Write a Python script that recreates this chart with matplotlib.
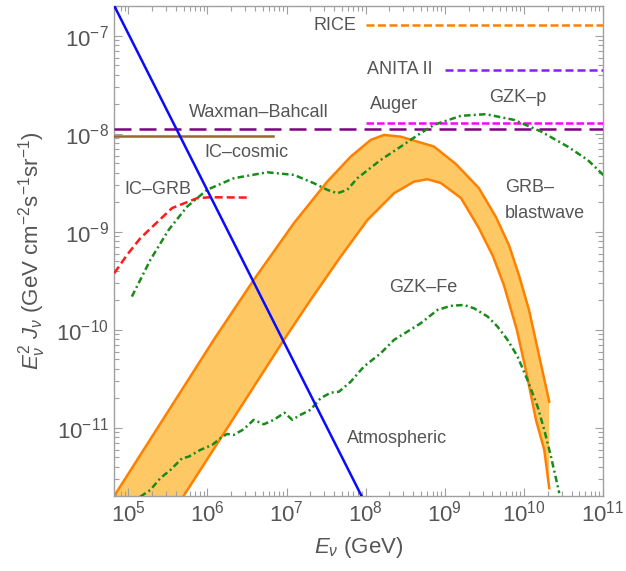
import numpy as np
import matplotlib
matplotlib.use("Agg")
import matplotlib.pyplot as plt
from matplotlib.ticker import FixedLocator, NullFormatter, LogFormatterSciNotation

plt.rcParams['font.family'] = ['Liberation Sans', 'DejaVu Sans']
plt.rcParams['mathtext.fontset'] = 'custom'
plt.rcParams['mathtext.rm'] = 'Liberation Sans'
plt.rcParams['mathtext.it'] = 'Liberation Sans:italic'
plt.rcParams['mathtext.bf'] = 'Liberation Sans:bold'

# ---------------- data (E in GeV, E^2 J in GeV cm^-2 s^-1 sr^-1) ----------------
atmos_E = [6.0e4, 1.0e8]
atmos_F = [2.39e-7, 1.67e-12]

rice_E = [1.0e8, 1.0e11]
rice_F = [1.29e-7, 1.29e-7]

anita_E = [1.0e9, 1.0e11]
anita_F = [4.5e-8, 4.5e-8]

auger_E = [1.0e8, 1.0e11]
auger_F = [1.29e-8, 1.29e-8]

wb_E = [6.6e4, 1.0e11]
wb_F = [1.12e-8, 1.12e-8]

iccosmic_E = [6.6e4, 6.8e6]
iccosmic_F = [9.55e-9, 9.55e-9]

icgrb_E = [6.65e4, 9.63e4, 1.42e5, 3.57e5, 7.41e5, 1.09e6, 3.50e6]
icgrb_F = [3.79e-10, 5.82e-10, 8.63e-10, 1.75e-9, 2.21e-9, 2.26e-9, 2.24e-9]

gzkp_E = [1.11e5, 1.90e5, 3.24e5, 5.53e5, 9.91e5, 2.15e6, 5.70e6, 1.24e7,
          2.22e7, 3.27e7, 4.39e7, 5.86e7, 7.85e7, 1.55e8, 2.77e8, 4.97e8,
          7.33e8, 1.60e9, 3.30e9, 7.53e9, 1.64e10, 3.57e10, 6.40e10, 1.04e11]
gzkp_F = [2.19e-10, 5.18e-10, 1.05e-9, 1.81e-9, 2.69e-9, 3.53e-9, 4.06e-9, 3.82e-9,
          3.14e-9, 2.69e-9, 2.48e-9, 2.69e-9, 3.53e-9, 5.43e-9, 7.41e-9, 1.02e-8,
          1.24e-8, 1.53e-8, 1.59e-8, 1.39e-8, 1.06e-8, 7.43e-9, 5.43e-9, 3.72e-9]

gzkfe_E = [1.42e5, 1.90e5, 2.54e5, 3.40e5, 4.79e5, 5.79e5, 8.15e5, 1.15e6,
           1.46e6, 1.77e6, 2.15e6, 2.88e6, 3.85e6, 5.16e6, 6.90e6, 9.44e6,
           1.18e7, 1.50e7, 2.01e7, 2.69e7, 3.61e7, 4.59e7, 6.46e7, 9.50e7,
           1.55e8, 2.28e8, 3.37e8, 4.97e8, 8.09e8, 1.19e9, 1.75e9, 2.35e9,
           3.48e9, 4.65e9, 6.22e9, 8.32e9, 1.11e10, 1.49e10, 1.81e10, 2.20e10, 2.80e10]
gzkfe_F = [1.99e-12, 2.33e-12, 3.07e-12, 3.72e-12, 4.91e-12, 5.09e-12, 5.97e-12, 6.71e-12,
           7.85e-12, 8.69e-12, 8.49e-12, 9.70e-12, 1.21e-11, 1.09e-11, 1.21e-11, 1.43e-11,
           1.21e-11, 1.36e-11, 1.53e-11, 2.01e-11, 2.29e-11, 2.34e-11, 2.96e-11, 4.23e-11,
           5.78e-11, 7.91e-11, 9.62e-11, 1.17e-10, 1.60e-10, 1.76e-10, 1.80e-10, 1.66e-10,
           1.37e-10, 1.08e-10, 7.91e-11, 5.35e-11, 3.09e-11, 1.65e-11, 9.55e-12, 5.09e-12, 2.16e-12]

grb_up_E = [6.0e4, 1.20e6, 3.85e6, 1.24e7, 3.27e7, 6.46e7, 1.16e8, 1.71e8, 2.77e8,
            4.51e8, 7.26e8, 1.38e9, 2.69e9, 4.43e9, 6.46e9, 8.64e9, 1.16e10, 1.50e10, 2.09e10]
grb_up_F = [1.78e-12, 7.91e-11, 3.24e-10, 1.23e-9, 3.26e-9, 5.86e-9, 8.69e-9, 9.77e-9, 9.38e-9,
            8.34e-9, 7.45e-9, 4.94e-9, 2.81e-9, 1.42e-9, 7.36e-10, 3.64e-10, 1.60e-10, 6.25e-11, 1.85e-11]

grb_lo_E = [4.5e5, 9.25e6, 2.01e7, 4.83e7, 1.05e8, 2.28e8, 4.08e8, 6.04e8, 8.89e8,
            1.60e9, 2.69e9, 4.05e9, 5.58e9, 8.15e9, 1.09e10, 1.42e10, 1.81e10, 2.09e10]
grb_lo_F = [1.77e-12, 7.91e-11, 2.02e-10, 5.60e-10, 1.32e-9, 2.48e-9, 3.26e-9, 3.45e-9, 3.16e-9,
            2.22e-9, 1.10e-9, 5.69e-10, 2.88e-10, 1.00e-10, 3.48e-11, 1.21e-11, 5.97e-12, 2.43e-12]

x_major = [1e5, 1e6, 1e7, 1e8, 1e9, 1e10, 1e11]
y_major = [1e-11, 1e-10, 1e-9, 1e-8, 1e-7]

# ---------------- figure ----------------
fig = plt.figure(figsize=(6.26, 5.71), dpi=100)
ax = fig.add_axes([0.1821, 0.1313, 0.7812, 0.8582])
ax.set_xscale('log')
ax.set_yscale('log')
xlim = (6.6e4, 1.0e11)
ylim = (2.02e-12, 2.02e-7)
ax.set_xlim(*xlim)
ax.set_ylim(*ylim)

orange = '#ff8000'
green = '#1a8a1a'
lw = 1.8

# GRB blastwave band
ax.fill(np.concatenate([grb_up_E, grb_lo_E[::-1]]),
        np.concatenate([grb_up_F, grb_lo_F[::-1]]),
        color='#fec965', lw=0, zorder=1)
ax.plot(grb_up_E, grb_up_F, color=orange, lw=lw, zorder=2)
ax.plot(grb_lo_E, grb_lo_F, color=orange, lw=lw, zorder=2)

# limits
ax.plot(rice_E, rice_F, color=orange, lw=lw, dashes=(3.2, 1.4), zorder=3)
ax.plot(anita_E, anita_F, color='#8c1aff', lw=lw, dashes=(3.2, 1.6), zorder=3)
ax.plot(auger_E, auger_F, color='#ff00ff', lw=lw, dashes=(3.0, 1.2), zorder=3)
ax.plot(wb_E, wb_F, color='#800080', lw=lw, dashes=(6.8, 3.2), zorder=3)
ax.plot(iccosmic_E, iccosmic_F, color='#996633', lw=lw, zorder=3)
ax.plot(icgrb_E, icgrb_F, color='#ff1a1a', lw=lw, dashes=(3.2, 1.6), zorder=3)

# GZK
ax.plot(gzkp_E, gzkp_F, color=green, lw=lw, dashes=(2.6, 1.3, 0.8, 1.3), zorder=4)
ax.plot(gzkfe_E, gzkfe_F, color=green, lw=lw, dashes=(2.6, 1.3, 0.8, 1.3), zorder=4)

# atmospheric
ax.plot(atmos_E, atmos_F, color='#0a0aff', lw=lw, zorder=5)

# labels
tc = '#555555'
fs = 13
ax.text(4.05e7, 1.29e-7, 'RICE', color=tc, fontsize=fs, ha='center', va='center')
ax.text(2.69e8, 4.5e-8, 'ANITA II', color=tc, fontsize=fs, ha='center', va='center')
ax.text(2.26e8, 1.98e-8, 'Auger', color=tc, fontsize=fs, ha='center', va='center')
ax.text(8.4e9, 2.33e-8, 'GZK–p', color=tc, fontsize=fs, ha='center', va='center')
ax.text(4.43e6, 1.67e-8, 'Waxman–Bahcall', color=tc, fontsize=fs, ha='center', va='center')
ax.text(3.12e6, 6.4e-9, 'IC–cosmic', color=tc, fontsize=fs, ha='center', va='center')
ax.text(2.4e5, 2.69e-9, 'IC–GRB', color=tc, fontsize=fs, ha='center', va='center')
ax.text(5.74e9, 2.81e-9, 'GRB–', color=tc, fontsize=fs, ha='left', va='center')
ax.text(5.74e9, 1.56e-9, 'blastwave', color=tc, fontsize=fs, ha='left', va='center')
ax.text(5.27e8, 2.68e-10, 'GZK–Fe', color=tc, fontsize=fs, ha='center', va='center')
ax.text(2.47e8, 7.72e-12, 'Atmospheric', color=tc, fontsize=fs, ha='center', va='center')

# axes styling
fc = '#a0a0a0'
for s in ax.spines.values():
    s.set_color(fc)
    s.set_linewidth(1.0)

def minor_ticks(lo, hi):
    out = []
    for d in range(int(np.floor(np.log10(lo))), int(np.ceil(np.log10(hi))) + 1):
        for m in range(2, 10):
            v = m * 10.0 ** d
            if lo <= v <= hi:
                out.append(v)
    return out

ax.xaxis.set_major_locator(FixedLocator(x_major))
ax.yaxis.set_major_locator(FixedLocator(y_major))
ax.xaxis.set_minor_locator(FixedLocator(minor_ticks(*xlim)))
ax.yaxis.set_minor_locator(FixedLocator(minor_ticks(*ylim)))
for axis in (ax.xaxis, ax.yaxis):
    axis.set_major_formatter(LogFormatterSciNotation())
    axis.set_minor_formatter(NullFormatter())
ax.tick_params(which='both', direction='in', top=True, right=True, color=fc,
               labelcolor=tc, labelsize=16, width=0.8)
ax.tick_params(which='major', length=6)
ax.tick_params(which='minor', length=3.5)

ax.set_xlabel(r'$E_\nu$ (GeV)', fontsize=16, color=tc)
ax.set_ylabel(r'$E_\nu^2\ J_\nu$ (GeV cm$^{-2}$s$^{-1}$sr$^{-1}$)', fontsize=16, color=tc)
ax.xaxis.set_label_coords(0.5, -0.08)
ax.yaxis.set_label_coords(-0.135, 0.5)

fig.savefig('out.png', dpi=100)
